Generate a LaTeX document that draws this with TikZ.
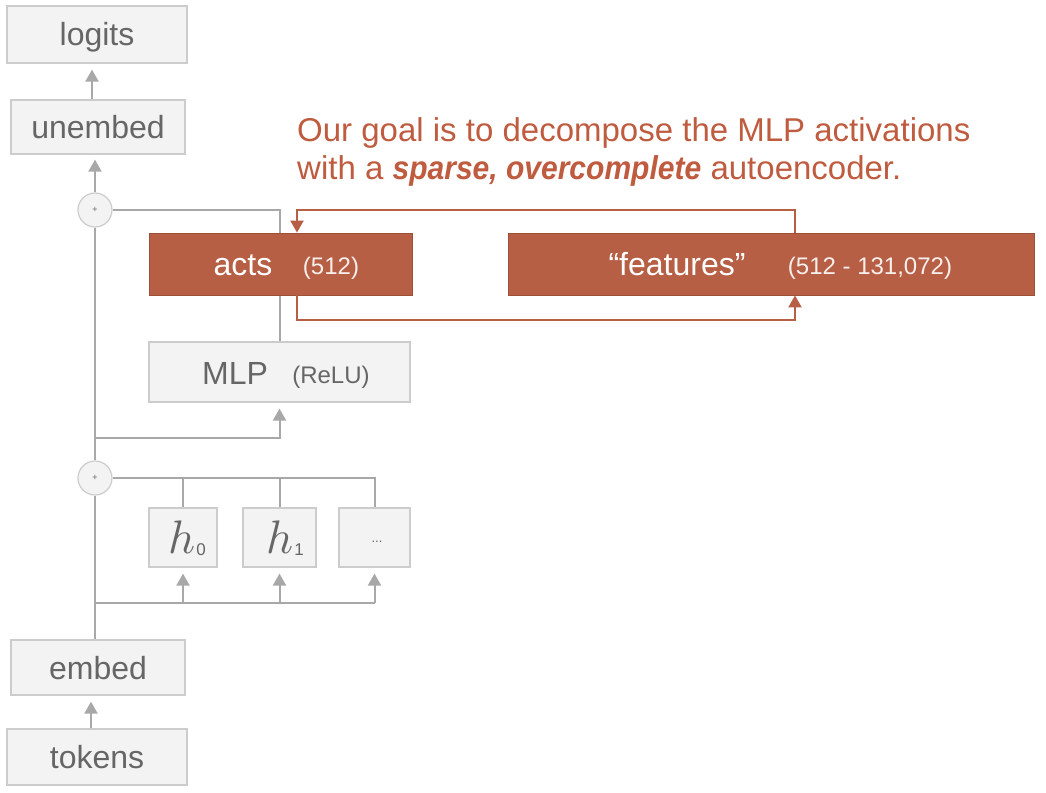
\documentclass[tikz,border=0pt]{standalone}
\usepackage{fontspec}
\usepackage{graphicx}
\setmainfont{Liberation Sans}
\usetikzlibrary{arrows.meta,backgrounds}
\definecolor{boxfill}{HTML}{F3F3F3}
\definecolor{boxline}{HTML}{CCCCCC}
\definecolor{txtgray}{HTML}{666666}
\definecolor{linegray}{HTML}{A8A8A8}
\definecolor{rust}{HTML}{B65F45}
\definecolor{rustdark}{HTML}{9E4F38}
\definecolor{rusttxt}{HTML}{BF5B3F}
\begin{document}
\begin{tikzpicture}[x=1pt,y=-1pt,
  gbox/.style={draw=boxline, fill=boxfill, line width=1.2pt, text=txtgray, font=\fontsize{32}{36}\selectfont, inner sep=0pt, text height=23pt, text depth=0pt},
  rbox/.style={draw=rustdark, fill=rust, line width=0.8pt, inner sep=0pt},
  btxt/.style={text=white, font=\fontsize{32}{36}\selectfont, inner sep=0pt, anchor=base},
  stxt/.style={font=\fontsize{24}{28}\selectfont, inner sep=0pt, anchor=base},
  gline/.style={draw=linegray, line width=2pt},
  garrow/.style={gline, -{Triangle[width=13pt,length=12pt]}},
  rline/.style={draw=rust, line width=2pt},
  rarrow/.style={rline, -{Triangle[width=13pt,length=12pt]}},
  pcircle/.style={circle, draw=boxline, fill=boxfill, line width=1.2pt, minimum size=34pt, inner sep=0pt, font=\fontsize{9}{9}\selectfont, text=txtgray},
  capt/.style={text=rusttxt, font=\fontsize{33}{38}\selectfont, inner sep=0pt, anchor=base west}
]
\useasboundingbox (0,0) rectangle (1046,792);
% gray boxes
\node[gbox, minimum width=180, minimum height=57] (logits) at (97,34.5) {logits};
\node[gbox, minimum width=174, minimum height=54] (unembed) at (98,127) {unembed};
\node[gbox, minimum width=174, minimum height=55] (embed) at (98,667.5) {embed};
\node[gbox, minimum width=180, minimum height=56] (tokens) at (97,757) {tokens};
\node[gbox, minimum width=261, minimum height=60] (mlp) at (279.5,372) {};
\node[btxt, text=txtgray] (mlpl) at (235,384) {MLP};
\node[stxt, text=txtgray] (relu) at (331,383) {(ReLU)};
\node[gbox, minimum width=68, minimum height=59] (h0) at (183,537.5) {};
\node[gbox, minimum width=73, minimum height=59] (h1) at (279.5,537.5) {};
\node[gbox, minimum width=71, minimum height=59] (hd) at (374.5,537.5) {};
\node[text=txtgray, inner sep=0pt, anchor=base] (h0l) at (187,553) {\scalebox{4.7}{$h$}\hspace{1pt}\fontsize{17}{17}\selectfont\raisebox{-2pt}{0}};
\node[text=txtgray, inner sep=0pt, anchor=base] (h1l) at (285,553) {\scalebox{4.7}{$h$}\hspace{1pt}\fontsize{17}{17}\selectfont\raisebox{-2pt}{1}};
\node[text=txtgray, inner sep=0pt, font=\fontsize{13}{13}\selectfont] (hdl) at (377,542) {...};
% plus circles
\node[pcircle] (p2) at (95,210) {+};
\node[pcircle] (p1) at (95,478) {+};
% orange boxes
\node[rbox, minimum width=263, minimum height=62] (acts) at (280.5,264) {};
\node[btxt] (actsl) at (243,275) {acts};
\node[stxt, text=white!90!rust] (actsn) at (331,274) {(512)};
\node[rbox, minimum width=526, minimum height=62] (feat) at (771,264) {};
\node[btxt] (featl) at (677,275) {“features”};
\node[stxt, text=white!90!rust] (featn) at (870,274) {(512 - 131,072)};
% caption
\node[capt] (cap1) at (297,141) {Our goal is to decompose the MLP activations};
\node[capt] (cap2) at (297,179) {with a \scalebox{0.91}[1]{\textbf{\textit{sparse, overcomplete}}} autoencoder.};
% coordinates
\coordinate (b1) at (95,603);
\coordinate (b2) at (95,438);
\coordinate (fx) at (795,0);
\coordinate (ax) at (297,0);
% gray connectors
\begin{scope}[on background layer]
\draw[gline] (mlp.north) |- (p2.east);
\end{scope}
\draw[gline] (embed.north -| p1.center) -- (p1);
\draw[gline] (p1) -- (p2);
\draw[garrow, shorten >=5pt] (p2) -- (unembed.south -| p2.center);
\draw[garrow, shorten >=6pt] ([xshift=-6pt]unembed.north) -- ([xshift=-6pt]unembed.north |- logits.south);
\draw[garrow, shorten >=6pt] ([xshift=-6pt]tokens.north) -- ([xshift=-6pt]tokens.north |- embed.south);
\draw[garrow, shorten >=6pt] (b2) -| (mlp.south);
\draw[gline] (b1) -- (b1 -| hd.south);
\draw[garrow, shorten >=6pt] (b1 -| h0.south) -- (h0.south);
\draw[garrow, shorten >=6pt] (b1 -| h1.south) -- (h1.south);
\draw[garrow, shorten >=6pt] (b1 -| hd.south) -- (hd.south);
\draw[gline] (p1.east) -| (hd.north);
\draw[gline] (h0.north) -- (h0.north |- p1.center);
\draw[gline] (h1.north) -- (h1.north |- p1.center);
% orange connectors
\draw[rarrow] (feat.north -| fx) -- ++(0,-23) -| (acts.north -| ax);
\draw[rarrow] (acts.south -| ax) -- ++(0,25) -| (feat.south -| fx);
\end{tikzpicture}
\end{document}
